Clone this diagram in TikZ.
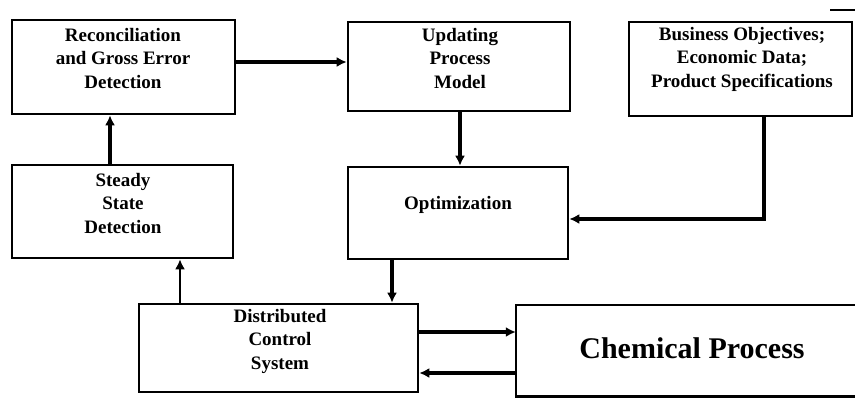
\documentclass[tikz,border=0pt]{standalone}
\usepackage{fontspec}
\setmainfont{Liberation Serif}
\usetikzlibrary{arrows.meta}
\begin{document}
\begin{tikzpicture}[x=1pt,y=-1pt,
  box/.style={draw, line width=2.6pt, inner sep=0pt},
  lbl/.style={font=\bfseries\fontsize{19}{23.5}\selectfont, align=center, inner sep=0pt},
  arr/.style={line width=3.5pt, -{Latex[length=10pt,width=10pt]}}]
\useasboundingbox (0,0) rectangle (855,397);
% boxes
\node[box, minimum width=223pt, minimum height=94pt] (recon) at (123.5,67) {};
\node[box, minimum width=222pt, minimum height=89pt] (upd) at (459,66.5) {};
\node[box, minimum width=223pt, minimum height=94pt] (bus) at (740.5,69) {};
\node[box, minimum width=221pt, minimum height=93pt] (steady) at (122.5,211.5) {};
\node[box, minimum width=220pt, minimum height=92pt] (opt) at (458,213) {};
\node[box, minimum width=279pt, minimum height=88pt] (dcs) at (278.5,348) {};
\node[inner sep=0pt, minimum width=340pt, minimum height=91pt] (chem) at (686,350.5) {};
\draw[line width=2.6pt] (chem.north east) -- (chem.north west) -- (chem.south west) -- (chem.south east);
% texts
\node[lbl] (trecon) at (123,58) {Reconciliation\\and Gross Error\\Detection};
\node[lbl] (tupd) at (460,58) {Updating\\Process\\Model};
\node[lbl] (tbus) at (742,59) {Business Objectives;\\Economic Data;\\Product Specifications};
\node[lbl] (tsteady) at (123,203) {Steady\\State\\Detection};
\node[lbl] (topt) at (458,205) {Optimization};
\node[lbl] (tdcs) at (280,341) {Distributed\\Control\\System};
\node[lbl, font=\bfseries\fontsize{30}{36}\selectfont] (tchem) at (692,348) {Chemical Process};
% connectors
\draw[arr, line width=4.5pt] (recon.east |- 0,62) -- (upd.west |- 0,62);
\draw[arr, line width=4pt] ([xshift=1pt]upd.south) -- ([xshift=2pt]opt.north);
\coordinate (bend) at (764,219);
\draw[arr] (bus.south -| bend) -- (bend) -- (opt.east |- bend);
\draw[arr] ([xshift=-12.5pt]steady.north) -- ([xshift=-13.5pt]recon.south);
\draw[arr, line width=2.8pt] (dcs.north -| 180,0) -- (steady.south -| 180,0);
\draw[arr, line width=4pt] (opt.south -| 392,0) -- (dcs.north -| 392,0);
\draw[arr] (dcs.east |- 0,332) -- (chem.west |- 0,332);
\draw[arr] (chem.west |- 0,373) -- (dcs.east |- 0,373);
% small stroke at top right
\coordinate (tr1) at (830,10);
\coordinate (tr2) at (855,10);
\draw[line width=1.5pt] (tr1) -- (tr2);
\end{tikzpicture}
\end{document}
